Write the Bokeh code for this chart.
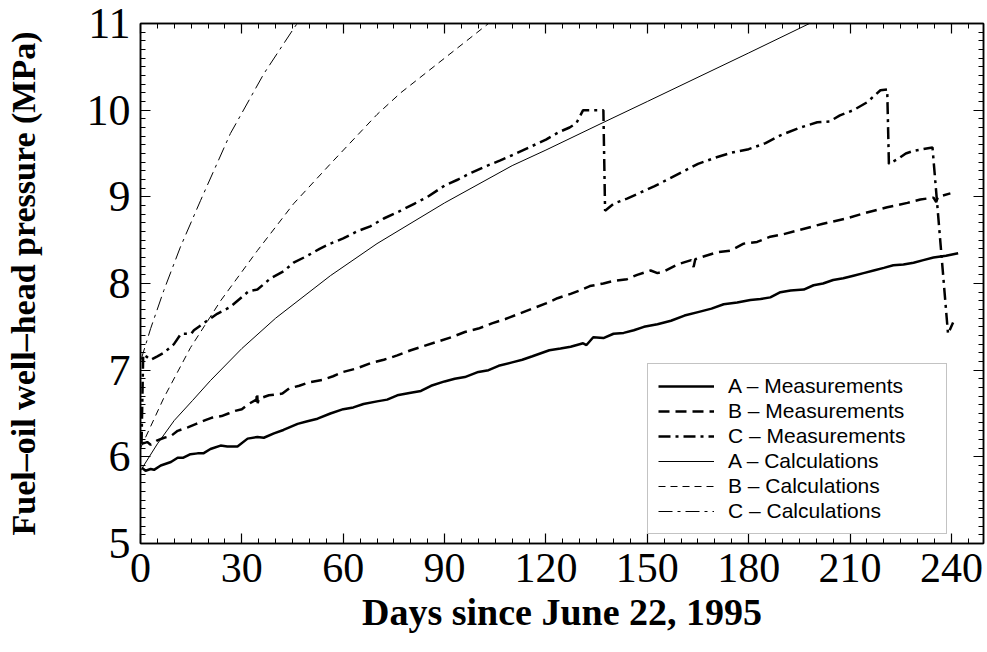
from bokeh.plotting import figure
from bokeh.models import LinearAxis, Range1d, Legend, LegendItem, SingleIntervalTicker
from bokeh.embed import file_html
from bokeh.resources import INLINE

# ---------------- data (days, MPa) ----------------
a_meas = [(0.5, 5.87), (1.5, 5.84), (3, 5.86), (4, 5.85), (6, 5.90), (9, 5.94), (11, 5.99),
          (12.7, 5.99), (14.8, 6.03), (16.9, 6.04), (18.6, 6.04), (20.7, 6.09), (23.7, 6.13),
          (25.7, 6.12), (28.7, 6.12), (31.7, 6.21), (34.6, 6.23), (36.5, 6.22), (39.5, 6.27),
          (42.3, 6.31), (46.5, 6.38), (49.4, 6.41), (52.4, 6.44), (56.2, 6.50), (60, 6.55),
          (63, 6.57), (66, 6.61), (70, 6.64), (73, 6.66), (76, 6.71), (80, 6.74), (83, 6.76),
          (86, 6.82), (90, 6.87), (93, 6.90), (96, 6.92), (100, 6.98), (103, 7.00), (106, 7.05),
          (110, 7.09), (113, 7.12), (116, 7.16), (121, 7.23), (124.3, 7.25), (127.3, 7.27),
          (131, 7.31), (132, 7.29), (134, 7.38), (137, 7.37), (140, 7.42), (143, 7.43),
          (146, 7.46), (149, 7.50), (153, 7.53), (157, 7.57), (161, 7.63), (165, 7.67),
          (169, 7.71), (172.6, 7.76), (176.6, 7.78), (180.5, 7.81), (183.5, 7.82), (186.4, 7.84),
          (189.4, 7.90), (192.4, 7.92), (196.3, 7.93), (199.2, 7.98), (202, 8.00), (205, 8.04),
          (208, 8.06), (211, 8.09), (214, 8.12), (217, 8.15), (220, 8.18), (222.8, 8.21),
          (225.8, 8.22), (228.8, 8.24), (231.7, 8.27), (234.7, 8.30), (238.4, 8.32), (242, 8.35)]

b_meas = [(0.3, 6.15), (2, 6.17), (3, 6.14), (5, 6.19), (7, 6.22), (9, 6.24), (11, 6.30),
          (14, 6.34), (16.5, 6.38), (19, 6.42), (21, 6.45), (24, 6.47), (26, 6.50), (28, 6.53),
          (30, 6.55), (32, 6.61), (34.3, 6.66), (34.5, 6.74), (34.7, 6.62), (35, 6.67), (38, 6.71),
          (42, 6.73), (44, 6.79), (47, 6.82), (50, 6.86), (54, 6.89), (57, 6.93), (60, 6.98),
          (64, 7.02), (68, 7.08), (72, 7.12), (76, 7.17), (80, 7.23), (84, 7.28), (88, 7.33),
          (92, 7.38), (96, 7.44), (100, 7.48), (104, 7.54), (108, 7.59), (112, 7.65), (116, 7.71),
          (120, 7.77), (123.4, 7.83), (127.3, 7.88), (130, 7.92), (133, 7.97), (137, 8.00),
          (140, 8.03), (144, 8.05), (147, 8.10), (151, 8.15), (153, 8.12), (155, 8.14),
          (159, 8.22), (163, 8.27), (163.7, 8.19), (164.2, 8.28), (165.7, 8.30), (170.7, 8.36),
          (174.6, 8.38), (178.5, 8.46), (182.5, 8.48), (186.4, 8.54), (190.4, 8.57),
          (195.3, 8.62), (202, 8.69), (209, 8.75), (215, 8.82), (221, 8.88), (227, 8.93),
          (230.8, 8.97), (234.7, 8.99), (235.5, 8.94), (236, 9.00), (239.7, 9.04)]

c_meas = [(0.3, 6.15), (0.8, 7.18), (2, 7.15), (3, 7.12), (5, 7.16), (6.9, 7.20), (9.9, 7.30),
          (12, 7.42), (15, 7.42), (15.8, 7.46), (19.7, 7.57), (22.7, 7.65), (26.6, 7.73),
          (29.6, 7.83), (32, 7.91), (34.6, 7.93), (38.5, 8.06), (42.3, 8.14), (45.3, 8.24),
          (49.4, 8.32), (53, 8.40), (56.2, 8.46), (60, 8.52), (64, 8.60), (68, 8.66), (72, 8.75),
          (77, 8.84), (81, 8.92), (85, 9.00), (90, 9.13), (94, 9.20), (98, 9.28), (102, 9.35),
          (106.5, 9.42), (110, 9.48), (115, 9.57), (120, 9.66), (124, 9.75), (127, 9.80),
          (129, 9.85), (131, 10.00), (137, 10.00), (137.5, 8.84), (140, 8.92), (144, 8.98),
          (148, 9.05), (152, 9.12), (156, 9.20), (160, 9.28), (165, 9.38), (170, 9.45),
          (175, 9.51), (180, 9.55), (185, 9.62), (189.4, 9.71), (195.3, 9.80), (200.3, 9.86),
          (204, 9.87), (207, 9.94), (211, 10.00), (215, 10.09), (219, 10.23), (221, 10.24),
          (221.5, 9.38), (224.3, 9.44), (226.5, 9.50), (228.8, 9.53), (234.4, 9.57),
          (239, 7.42), (240.5, 7.55)]

a_calc = [(0, 5.84), (5, 6.15), (10, 6.42), (15.4, 6.65), (20.7, 6.88), (30, 7.25), (40, 7.60),
          (56.2, 8.09), (70, 8.46), (90, 8.93), (110, 9.36), (120, 9.54), (136, 9.84),
          (150, 10.10), (165, 10.38), (180, 10.66), (198, 11.00), (205, 11.12)]

b_calc = [(0, 6.10), (2.4, 6.30), (6.9, 6.68), (14.8, 7.26), (23.7, 7.80), (34.6, 8.38),
          (45.3, 8.92), (56.2, 9.38), (70, 9.95), (77, 10.20), (90, 10.60), (103, 11.00),
          (106, 11.09)]

c_calc = [(0, 7.10), (3, 7.48), (6.9, 7.92), (11.8, 8.42), (17.8, 8.96), (26.6, 9.73),
          (36.5, 10.42), (45.3, 10.94), (48, 11.09)]

x_major_ticks = [0, 30, 60, 90, 120, 150, 180, 210, 240]
y_major_ticks = [5, 6, 7, 8, 9, 10, 11]

x_title = "Days since June 22, 1995"
y_title = "Fuel\u2013oil well\u2013head pressure (MPa)"

series = [
    ("A \u2013 Measurements", a_meas, 2.5, "solid"),
    ("B \u2013 Measurements", b_meas, 2.5, "11 6"),
    ("C \u2013 Measurements", c_meas, 2.5, "12 5 3 5"),
    ("A \u2013 Calculations", a_calc, 1.0, "solid"),
    ("B \u2013 Calculations", b_calc, 1.0, "7 5"),
    ("C \u2013 Calculations", c_calc, 1.0, "14 5 3 5"),
]

# ---------------- figure ----------------
p = figure(width=985, height=645, output_backend="svg", toolbar_location=None,
           x_range=Range1d(0, 249.5), y_range=Range1d(5, 11),
           min_border_left=140, min_border_right=2, min_border_top=23, min_border_bottom=102)
p.xgrid.visible = False
p.ygrid.visible = False
p.outline_line_color = "black"
p.outline_line_width = 1.5
p.background_fill_color = "white"
p.border_fill_color = "white"

xt = SingleIntervalTicker(interval=30, num_minor_ticks=6)
yt = SingleIntervalTicker(interval=1, num_minor_ticks=10)

def style_axis(ax, ticker):
    ax.ticker = ticker
    ax.axis_line_color = "black"
    ax.axis_line_width = 1.5
    ax.major_tick_in = 10
    ax.major_tick_out = 0
    ax.minor_tick_in = 5
    ax.minor_tick_out = 0
    ax.major_tick_line_color = "black"
    ax.minor_tick_line_color = "black"
    ax.major_tick_line_width = 1.2
    ax.minor_tick_line_width = 1.0

xa = p.xaxis[0]
ya = p.yaxis[0]
style_axis(xa, xt)
style_axis(ya, yt)
for ax, size in ((xa, "42px"), (ya, "44px")):
    ax.major_label_text_font = "Liberation Serif"
    ax.major_label_text_font_size = size
    ax.major_label_text_color = "black"
    ax.axis_label_text_font = "Liberation Serif"
    ax.axis_label_text_font_style = "bold"
    ax.axis_label_text_color = "black"
xa.major_label_standoff = 10
ya.major_label_standoff = 10
xa.axis_label = x_title
ya.axis_label = y_title
xa.axis_label_text_font_size = "38px"
ya.axis_label_text_font_size = "34px"
xa.axis_label_standoff = 6
ya.axis_label_standoff = 42

for loc, tk in (("right", SingleIntervalTicker(interval=1, num_minor_ticks=10)),
                ("above", SingleIntervalTicker(interval=30, num_minor_ticks=6))):
    ax = LinearAxis()
    style_axis(ax, tk)
    ax.major_label_text_color = None
    ax.major_label_text_font_size = "1px"
    ax.major_label_standoff = 0
    p.add_layout(ax, loc)

items = []
for label, pts, lw, dash in series:
    xs = [d for d, v in pts]
    ys = [v for d, v in pts]
    r = p.line(xs, ys, line_color="black", line_width=lw, line_dash=dash)
    items.append(LegendItem(label=label, renderers=[r]))

legend = Legend(items=items, location=(507, 9))
legend.border_line_color = "#888888"
legend.border_line_width = 1
legend.background_fill_color = "white"
legend.background_fill_alpha = 1
legend.label_text_font = "Liberation Sans"
legend.label_text_font_size = "21px"
legend.label_text_color = "black"
legend.glyph_width = 56
legend.glyph_height = 20
legend.label_height = 20
legend.label_width = 208
legend.spacing = 1
legend.padding = 10
legend.margin = 0
legend.label_standoff = 14
p.add_layout(legend)

open("out.html", "w").write(file_html(p, INLINE))
